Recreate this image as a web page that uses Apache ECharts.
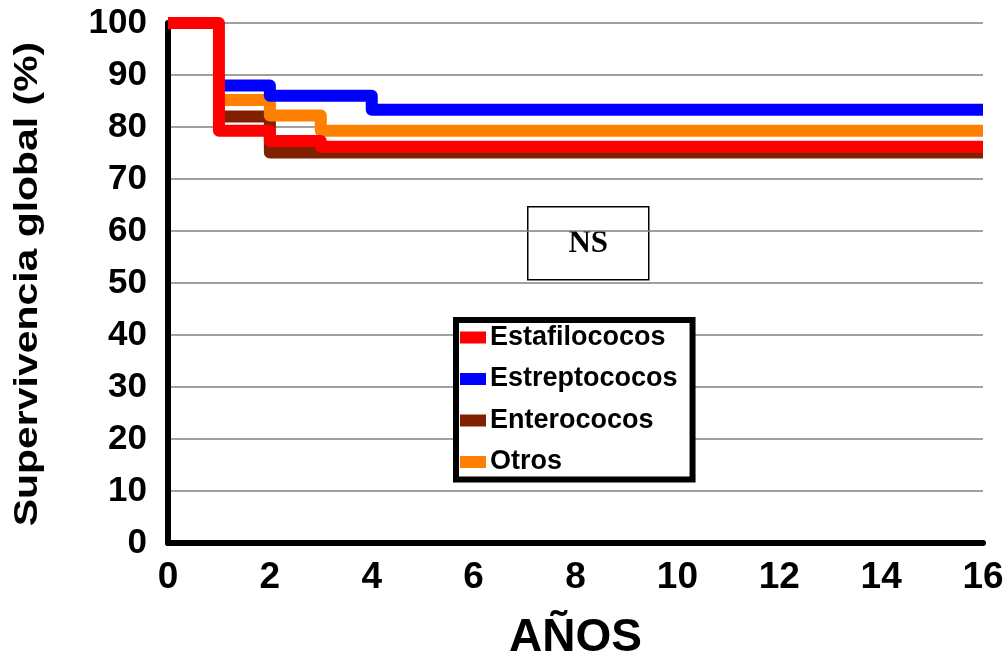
<!DOCTYPE html>
<html>
<head>
<meta charset="utf-8">
<script src="https://cdn.jsdelivr.net/npm/echarts@6/dist/echarts.min.js"></script>
<style>
  html, body { margin: 0; padding: 0; background: #fff; }
  #chart { width: 1008px; height: 664px; }
</style>
</head>
<body>
<div id="chart"></div>
<script>
// Kaplan-Meier style survival steps: [año, supervivencia %]
const estafilococos = [[0, 100], [1, 79.3], [2, 77.3], [3, 76.2], [16, 76.2]];
const estreptococos = [[1, 88], [2, 86], [4, 83.3], [16, 83.3]];
const enterococos = [[1, 82], [2, 75.1], [16, 75.1]];
const otros = [[1, 85.2], [2, 82.2], [3, 79.3], [16, 79.3]];

const seriesNames = ['Estafilococos', 'Estreptococos', 'Enterococos', 'Otros'];
const seriesColors = ['#ff0000', '#0000ff', '#802000', '#ff8000'];
const seriesData = [estafilococos, estreptococos, enterococos, otros];
// drawing order (later = on top)
const drawOrder = [2, 3, 1, 0];

const xTicks = { min: 0, max: 16, interval: 2 };
const yTicks = { min: 0, max: 100, interval: 10 };

const yTitle = 'Supervivencia global (%)';
const xTitle = 'AÑOS';
const noteText = 'NS';

const chart = echarts.init(document.getElementById('chart'), null, { renderer: 'canvas' });

const series = drawOrder.map((idx, k) => ({
  name: seriesNames[idx],
  type: 'line',
  step: 'end',
  data: seriesData[idx],
  showSymbol: false,
  symbol: 'none',
  z: 2 + k,
  color: seriesColors[idx],
  lineStyle: { color: seriesColors[idx], width: 12, cap: 'butt', join: 'round' },
  emphasis: { disabled: true },
  silent: true,
  animation: false
}));

chart.setOption({
  animation: false,
  backgroundColor: '#ffffff',
  grid: { left: 168, right: 25, top: 23, bottom: 121, containLabel: false, outerBoundsMode: 'none' },
  xAxis: {
    type: 'value',
    min: xTicks.min, max: xTicks.max, interval: xTicks.interval,
    name: xTitle,
    nameLocation: 'middle',
    nameGap: 72,
    nameTextStyle: { fontFamily: 'Liberation Sans, Arial', fontWeight: 'bold', fontSize: 46, color: '#000' },
    axisLine: { show: true, onZero: false, lineStyle: { color: '#000', width: 6 } },
    axisTick: { show: false },
    splitLine: { show: false },
    axisLabel: { margin: 16, fontFamily: 'Liberation Sans, Arial', fontWeight: 'bold', fontSize: 37, color: '#000' }
  },
  yAxis: {
    type: 'value',
    min: yTicks.min, max: yTicks.max, interval: yTicks.interval,
    axisLine: { show: true, onZero: false, lineStyle: { color: '#000', width: 6 } },
    axisTick: { show: false },
    splitLine: { show: true, lineStyle: { color: '#808080', width: 1.5 } },
    axisLabel: { margin: 21, fontFamily: 'Liberation Sans, Arial', fontWeight: 'bold', fontSize: 35, color: '#000' }
  },
  legend: {
    data: seriesNames,
    orient: 'vertical',
    left: 456,
    top: 320,
    backgroundColor: '#ffffff',
    borderColor: '#000',
    borderWidth: 6,
    borderRadius: 0,
    padding: [4, 15, 4, 4],
    itemWidth: 26,
    itemHeight: 12,
    itemGap: 14.5,
    icon: 'rect',
    selectedMode: false,
    textStyle: { fontFamily: 'Liberation Sans, Arial', fontWeight: 'bold', fontSize: 27, color: '#000', padding: [0, 0, 0, -1] }
  },
  graphic: [
    {
      // vertical axis title, stretched along its length
      type: 'text',
      x: 28,
      y: 284,
      rotation: Math.PI / 2,
      scaleX: 1.24,
      scaleY: 1,
      z: 10,
      style: { text: yTitle, fontFamily: 'Liberation Sans, Arial', fontWeight: 'bold', fontSize: 33, fill: '#000', align: 'center', verticalAlign: 'middle' }
    },
    {
      type: 'group',
      left: 527,
      top: 206,
      z: 10,
      children: [
        { type: 'rect', shape: { x: 0, y: 0, width: 121, height: 73 }, style: { fill: '#fff', stroke: '#000', lineWidth: 1.5 } },
        { type: 'text', x: 60.5, y: 37, style: { text: noteText, fontFamily: 'Liberation Serif, Times New Roman', fontWeight: 'bold', fontSize: 31, fill: '#000', align: 'center', verticalAlign: 'middle' } }
      ]
    }
  ],
  series: series
});
</script>
</body>
</html>
